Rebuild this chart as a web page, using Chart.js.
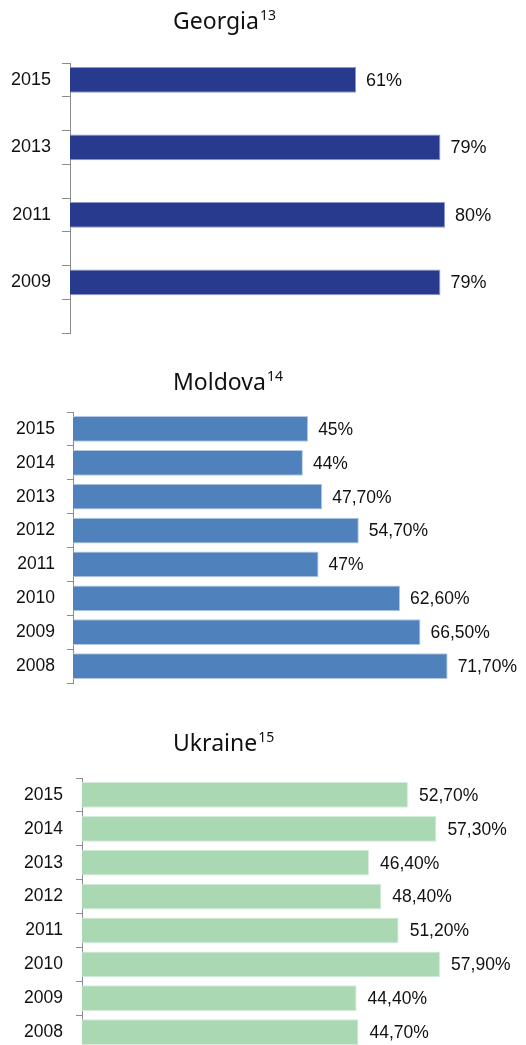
<!DOCTYPE html>
<html>
<head>
<meta charset="utf-8">
<script src="https://cdn.jsdelivr.net/npm/chart.js@4.4.1/dist/chart.umd.min.js"></script>
<style>
  html, body { margin: 0; padding: 0; background: #fff; overflow: hidden; }
  #wrap { position: relative; width: 526px; height: 1045px; overflow: hidden; }
  canvas { position: absolute; left: 0; }
</style>
</head>
<body>
<div id="wrap">
  <canvas id="georgia" width="526" height="360" style="top:0"></canvas>
  <canvas id="moldova" width="526" height="365" style="top:345px"></canvas>
  <canvas id="ukraine" width="526" height="376" style="top:700px"></canvas>
</div>
<script>
// years, newest on top
const years = ['2015', '2014', '2013', '2012', '2011', '2010', '2009', '2008'];

// shares in %, null = no survey that year
const georgiaValues = [61, null, 79, null, 80, null, 79, null];
const moldovaValues = [45, 44, 47.7, 54.7, 47, 62.6, 66.5, 71.7];
const ukraineValues = [52.7, 57.3, 46.4, 48.4, 51.2, 57.9, 44.4, 44.7];

const titles = ['Georgia', 'Moldova', 'Ukraine'];
const notes = ['13', '14', '15'];

const axisGrey = '#8c8c8c';

function fmt(v) {
  return Number.isInteger(v) ? v + '%' : v.toFixed(2).replace('.', ',') + '%';
}

// title with a superscript footnote number
const supTitle = {
  id: 'supTitle',
  afterDraw(chart, args, opts) {
    const ctx = chart.ctx;
    ctx.save();
    ctx.fillStyle = '#111';
    ctx.textBaseline = 'alphabetic';
    ctx.textAlign = 'left';
    ctx.font = '23px "Noto Sans"';
    ctx.fillText(opts.text, opts.x, opts.y);
    const w = ctx.measureText(opts.text).width;
    ctx.font = '14px "Noto Sans"';
    ctx.fillText(opts.note, opts.x + w + 1, opts.y - 9);
    ctx.restore();
  }
};

// percentage next to each bar
const valueLabels = {
  id: 'valueLabels',
  afterDatasetsDraw(chart, args, opts) {
    const ctx = chart.ctx;
    const ds = chart.data.datasets[0];
    ctx.save();
    ctx.font = opts.size + 'px "Liberation Sans", Arial, sans-serif';
    ctx.fillStyle = '#111';
    ctx.textBaseline = 'middle';
    chart.getDatasetMeta(0).data.forEach((bar, i) => {
      const v = ds.data[i];
      if (v == null) return;
      ctx.fillText(fmt(v), bar.x + opts.gap, bar.y + 1);
    });
    ctx.restore();
  }
};

function makeChart(id, values, cfg) {
  return new Chart(document.getElementById(id), {
    type: 'bar',
    data: {
      labels: years,
      datasets: [{
        data: values,
        backgroundColor: cfg.color,
        borderColor: cfg.edge,
        borderWidth: 1,
        categoryPercentage: 1,
        barPercentage: cfg.bar
      }]
    },
    plugins: [supTitle, valueLabels],
    options: {
      indexAxis: 'y',
      responsive: false,
      animation: false,
      devicePixelRatio: 1,
      layout: { padding: { left: 0, top: cfg.top, bottom: 27, right: cfg.right } },
      plugins: {
        legend: { display: false },
        tooltip: { enabled: false },
        supTitle: { text: cfg.title, note: cfg.note, x: 173, y: cfg.titleY },
        valueLabels: { gap: cfg.gap, size: cfg.font }
      },
      scales: {
        x: { display: false, min: 0, max: cfg.max },
        y: {
          afterFit(scale) { scale.width = cfg.axisX; },
          grid: {
            drawOnChartArea: false,
            tickLength: cfg.tick,
            color: axisGrey,
            lineWidth: 1
          },
          border: { color: axisGrey, width: 1 },
          ticks: {
            padding: cfg.pad,
            color: '#111',
            font: { family: '"Liberation Sans", Arial, sans-serif', size: cfg.font },
            callback(val, i) { return values[i] == null ? '' : years[i]; }
          }
        }
      }
    }
  });
}

makeChart('georgia', georgiaValues, {
  title: titles[0], note: notes[0], titleY: 29,
  color: '#283a8e', edge: '#8e98c8', bar: 0.77,
  top: 63, right: 34, max: 90,
  axisX: 70, tick: 8, pad: 11, gap: 10, font: 18
});

makeChart('moldova', moldovaValues, {
  title: titles[1], note: notes[1], titleY: 45,
  color: '#4f81bd', edge: '#b3c9e4', bar: 0.76,
  top: 67, right: 35, max: 80,
  axisX: 73, tick: 6, pad: 12, gap: 10, font: 17.5
});

makeChart('ukraine', ukraineValues, {
  title: titles[2], note: notes[2], titleY: 51,
  color: '#a9d8b3', edge: '#d4ecd9', bar: 0.76,
  top: 78, right: 42, max: 65,
  axisX: 82, tick: 6, pad: 13, gap: 11, font: 17.5
});
</script>
</body>
</html>
